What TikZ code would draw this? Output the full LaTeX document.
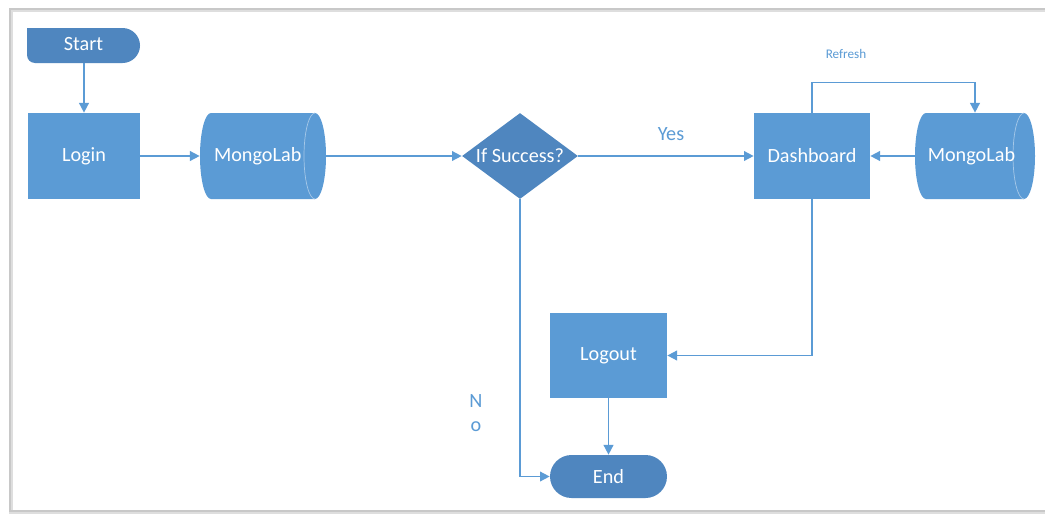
\documentclass[tikz,border=0pt]{standalone}
\usepackage{fontspec}
\setmainfont{Carlito}
\usetikzlibrary{arrows.meta,shapes.geometric}
\definecolor{lb}{HTML}{5B9BD5}
\definecolor{db}{HTML}{4F86BF}
\definecolor{frame}{HTML}{C8C8C8}
\begin{document}
\begin{tikzpicture}[x=0.02cm,y=-0.02cm,
  lbl/.style={text=white,font=\fontsize{11.5}{13}\selectfont,inner sep=0},
  box/.style={lbl,fill=lb,minimum height=1.72cm},
  conn/.style={draw=lb,line width=0.9pt,-{Triangle[length=5.5pt,width=5.5pt]}},
  note/.style={text=lb,inner sep=0},
  innerarc/.style={draw=lb!55!white,line width=0.4pt}]
\useasboundingbox (0,0) rectangle (1045,514);
\fill[white] (0,0) rectangle (1045,514);
% frame (open on the right)
\draw[frame!60,line width=2.2pt] (1045,10) -- (11,10) -- (11,512) -- (1045,512);
\draw[frame,line width=0.8pt] (1045,9) -- (10,9) -- (10,511) -- (1045,511);
% Start shape
\fill[db] (27,28) -- (122.5,28) .. controls (132.2,28) and (140,35.8) .. (140,45.5)
  .. controls (140,55.2) and (132.2,63) .. (122.5,63) -- (35,63)
  .. controls (30.6,63) and (27,59.4) .. (27,55) -- cycle;
\node[lbl,minimum width=2.26cm,minimum height=0.7cm] (start) at (83.5,45.5) {\raisebox{1.5pt}{Start}};
% Login
\node[box,minimum width=2.24cm] (login) at (84,156) {Login};
% MongoLab 1
\fill[lb] (211,113) -- (315,113) .. controls (321.1,113) and (326,132.3) .. (326,156)
  .. controls (326,179.7) and (321.1,199) .. (315,199) -- (211,199)
  .. controls (204.9,199) and (200,179.7) .. (200,156)
  .. controls (200,132.3) and (204.9,113) .. (211,113) -- cycle;
\draw[innerarc] (315,113) .. controls (308.9,113) and (304,132.3) .. (304,156)
  .. controls (304,179.7) and (308.9,199) .. (315,199);
\node[lbl,minimum width=2.52cm,minimum height=1.72cm] (m1) at (263,156) {\hspace{-6pt}MongoLab};
% Decision
\node[lbl,fill=db,diamond,aspect=1.35,minimum width=2.32cm,minimum height=1.72cm] (dec) at (520,156) {If Success?};
% Dashboard
\node[box,minimum width=2.32cm] (dash) at (812,156) {Dashboard};
% MongoLab 2
\fill[lb] (926,113) -- (1024,113) .. controls (1030.1,113) and (1035,132.3) .. (1035,156)
  .. controls (1035,179.7) and (1030.1,199) .. (1024,199) -- (926,199)
  .. controls (919.9,199) and (915,179.7) .. (915,156)
  .. controls (915,132.3) and (919.9,113) .. (926,113) -- cycle;
\draw[innerarc] (1024,113) .. controls (1017.9,113) and (1013,132.3) .. (1013,156)
  .. controls (1013,179.7) and (1017.9,199) .. (1024,199);
\node[lbl,minimum width=2.4cm,minimum height=1.72cm] (m2) at (975,156) {\hspace{-4pt}MongoLab};
% Logout
\node[box,minimum width=2.34cm,minimum height=1.7cm] (logout) at (608.5,355.5) {Logout};
% End
\node[lbl,fill=db,minimum width=2.34cm,minimum height=0.86cm,rounded corners=0.43cm] (end) at (608.5,476.5) {End};
% connectors
\draw[conn] (start.south -| login.north) -- (login.north);
\draw[conn] (login.east) -- (m1.west);
\draw[conn] (m1.east) -- (dec.west);
\draw[conn] (dec.east) -- (dash.west);
\draw[conn] (m2.west) -- (dash.east);
\draw[conn] (dash.north) -- ++(0,-30) -| (m2.north);
\draw[conn] (dash.south) |- (logout.east);
\draw[conn] (logout.south) -- (end.north);
\draw[conn] (dec.south) |- (end.west);
% labels
\node[note,font=\fontsize{11.5}{13}\selectfont] (yes) at (671,134) {Yes};
\node[note,font=\fontsize{7.5}{9}\selectfont] (refresh) at (846,54) {Refresh};
\node[note,font=\fontsize{11.5}{13.6}\selectfont,align=center] (no) at (476,413) {N\\o};
\end{tikzpicture}
\end{document}
